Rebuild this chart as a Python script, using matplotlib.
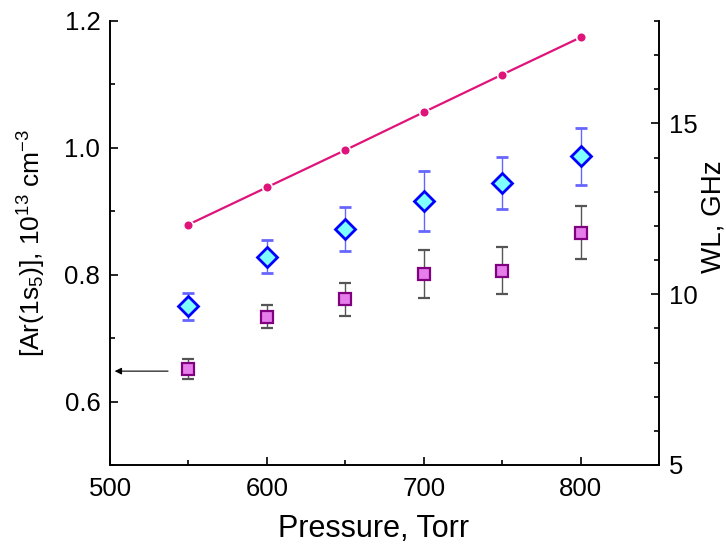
import matplotlib
matplotlib.use("Agg")
import matplotlib.pyplot as plt
from matplotlib.ticker import MultipleLocator

plt.rcParams['font.family'] = ['Liberation Sans', 'DejaVu Sans']
plt.rcParams['mathtext.fontset'] = 'custom'
plt.rcParams['mathtext.rm'] = 'Liberation Sans'
plt.rcParams['mathtext.it'] = 'Liberation Sans:italic'

# Data
pressure = [550, 600, 650, 700, 750, 800]
wl_ghz = [12.04, 13.13, 14.22, 15.33, 16.43, 17.52]
ar_diamond = [0.750, 0.828, 0.872, 0.916, 0.945, 0.987]
ar_diamond_err = [0.021, 0.026, 0.035, 0.047, 0.041, 0.045]
ar_square = [0.651, 0.734, 0.761, 0.801, 0.806, 0.866]
ar_square_err = [0.016, 0.018, 0.026, 0.038, 0.037, 0.042]

fig = plt.figure(figsize=(7.26, 5.48), dpi=100)
ax = fig.add_axes([110/726, 1-465/548, (659-110)/726, (465-21)/548])
ax2 = ax.twinx()

ax.errorbar(pressure, ar_diamond, yerr=ar_diamond_err, fmt='D', ms=10, mfc='#80FFFF',
            mec='#0000FF', mew=2, ecolor='#6666FF', elinewidth=1, capsize=4, capthick=1, zorder=3)
ax.errorbar(pressure, ar_square, yerr=ar_square_err, fmt='s', ms=8, mfc='#E67DEB',
            mec='#800080', mew=1.6, ecolor='#555555', elinewidth=1, capsize=4, capthick=1, zorder=3)

ax2.plot(pressure, wl_ghz, '-o', color='#E0137A', lw=1.6, ms=7, mfc='#E0137A',
         mec='white', mew=1.2)

ax.annotate('', xy=(503, 0.648), xytext=(537, 0.648),
            arrowprops=dict(arrowstyle='-|>', color='black', lw=0.8,
                            mutation_scale=10, shrinkA=0, shrinkB=0))

ax.set_xlim(500, 850)
ax.set_ylim(0.5, 1.2)
ax2.set_ylim(5, 18)

ax.xaxis.set_major_locator(MultipleLocator(100))
ax.xaxis.set_minor_locator(MultipleLocator(50))
ax.yaxis.set_major_locator(MultipleLocator(0.2))
ax.yaxis.set_minor_locator(MultipleLocator(0.1))
ax2.yaxis.set_major_locator(MultipleLocator(5))
ax2.yaxis.set_minor_locator(MultipleLocator(1))
ax.yaxis.set_major_formatter(matplotlib.ticker.FormatStrFormatter('%.1f'))

for a in (ax, ax2):
    a.spines['top'].set_visible(False)
    for s in a.spines.values():
        s.set_linewidth(1.2)
    a.tick_params(which='major', direction='in', length=6, width=1.2, labelsize=18.5, pad=7)
    a.tick_params(which='minor', direction='in', length=3.5, width=1.2)
ax.tick_params(top=False, which='both')
ax.tick_params(axis='x', pad=9)

ax.set_xlabel('Pressure, Torr', fontsize=22, labelpad=9)
ax.xaxis.label.set_x(0.48)
ax.set_ylabel(r'[Ar(1s$_5$)], 10$^{13}$ cm$^{-3}$', fontsize=19, labelpad=12)
ax2.set_ylabel('WL, GHz', fontsize=20, labelpad=2)
ax2.yaxis.label.set_y(0.56)

fig.savefig('out.png', dpi=100)
